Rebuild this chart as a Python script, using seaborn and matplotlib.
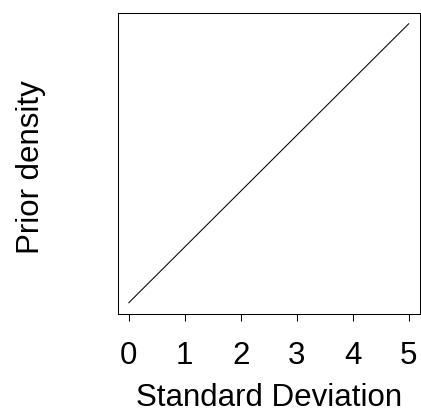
import matplotlib
matplotlib.use("Agg")
import matplotlib.pyplot as plt
import seaborn as sns
import numpy as np
import pandas as pd

sd = [0.0, 5.0]
density = [0.0, 0.4]
xticks = [0, 1, 2, 3, 4, 5]

sns.set_style("white")
plt.rcParams['font.family'] = ['Liberation Sans', 'DejaVu Sans']
plt.rcParams['text.color'] = 'black'
plt.rcParams['axes.labelcolor'] = 'black'
plt.rcParams['xtick.color'] = 'black'

FS = 22.5
fig = plt.figure(figsize=(4.21, 4.18), dpi=100)
ax = fig.add_axes([117.5/421, 1-314/418, (420-117.5)/421, (314-12.5)/418])
df = pd.DataFrame({"sd": sd, "density": density})
sns.lineplot(data=df, x="sd", y="density", ax=ax, color="black", linewidth=0.75)
ax.set_xlim(-0.2, 5.2)
ax.set_ylim(-0.016, 0.416)
ax.set_xticks(xticks)
ax.set_xticklabels([str(t) for t in xticks], fontsize=FS)
ax.set_yticks([])
ax.tick_params(axis="x", direction="out", length=5.2, width=0.75, pad=14, color="black", labelcolor="black", bottom=True)
for s in ax.spines.values():
    s.set_color("black")
    s.set_linewidth(0.75)
ax.set_xlabel("Standard Deviation", fontsize=FS, labelpad=8.7, color="black")
ax.set_ylabel("Prior density", fontsize=FS, color="black")
ax.yaxis.set_label_coords(-0.2377, 0.4876)
fig.savefig("out.png", dpi=100)
